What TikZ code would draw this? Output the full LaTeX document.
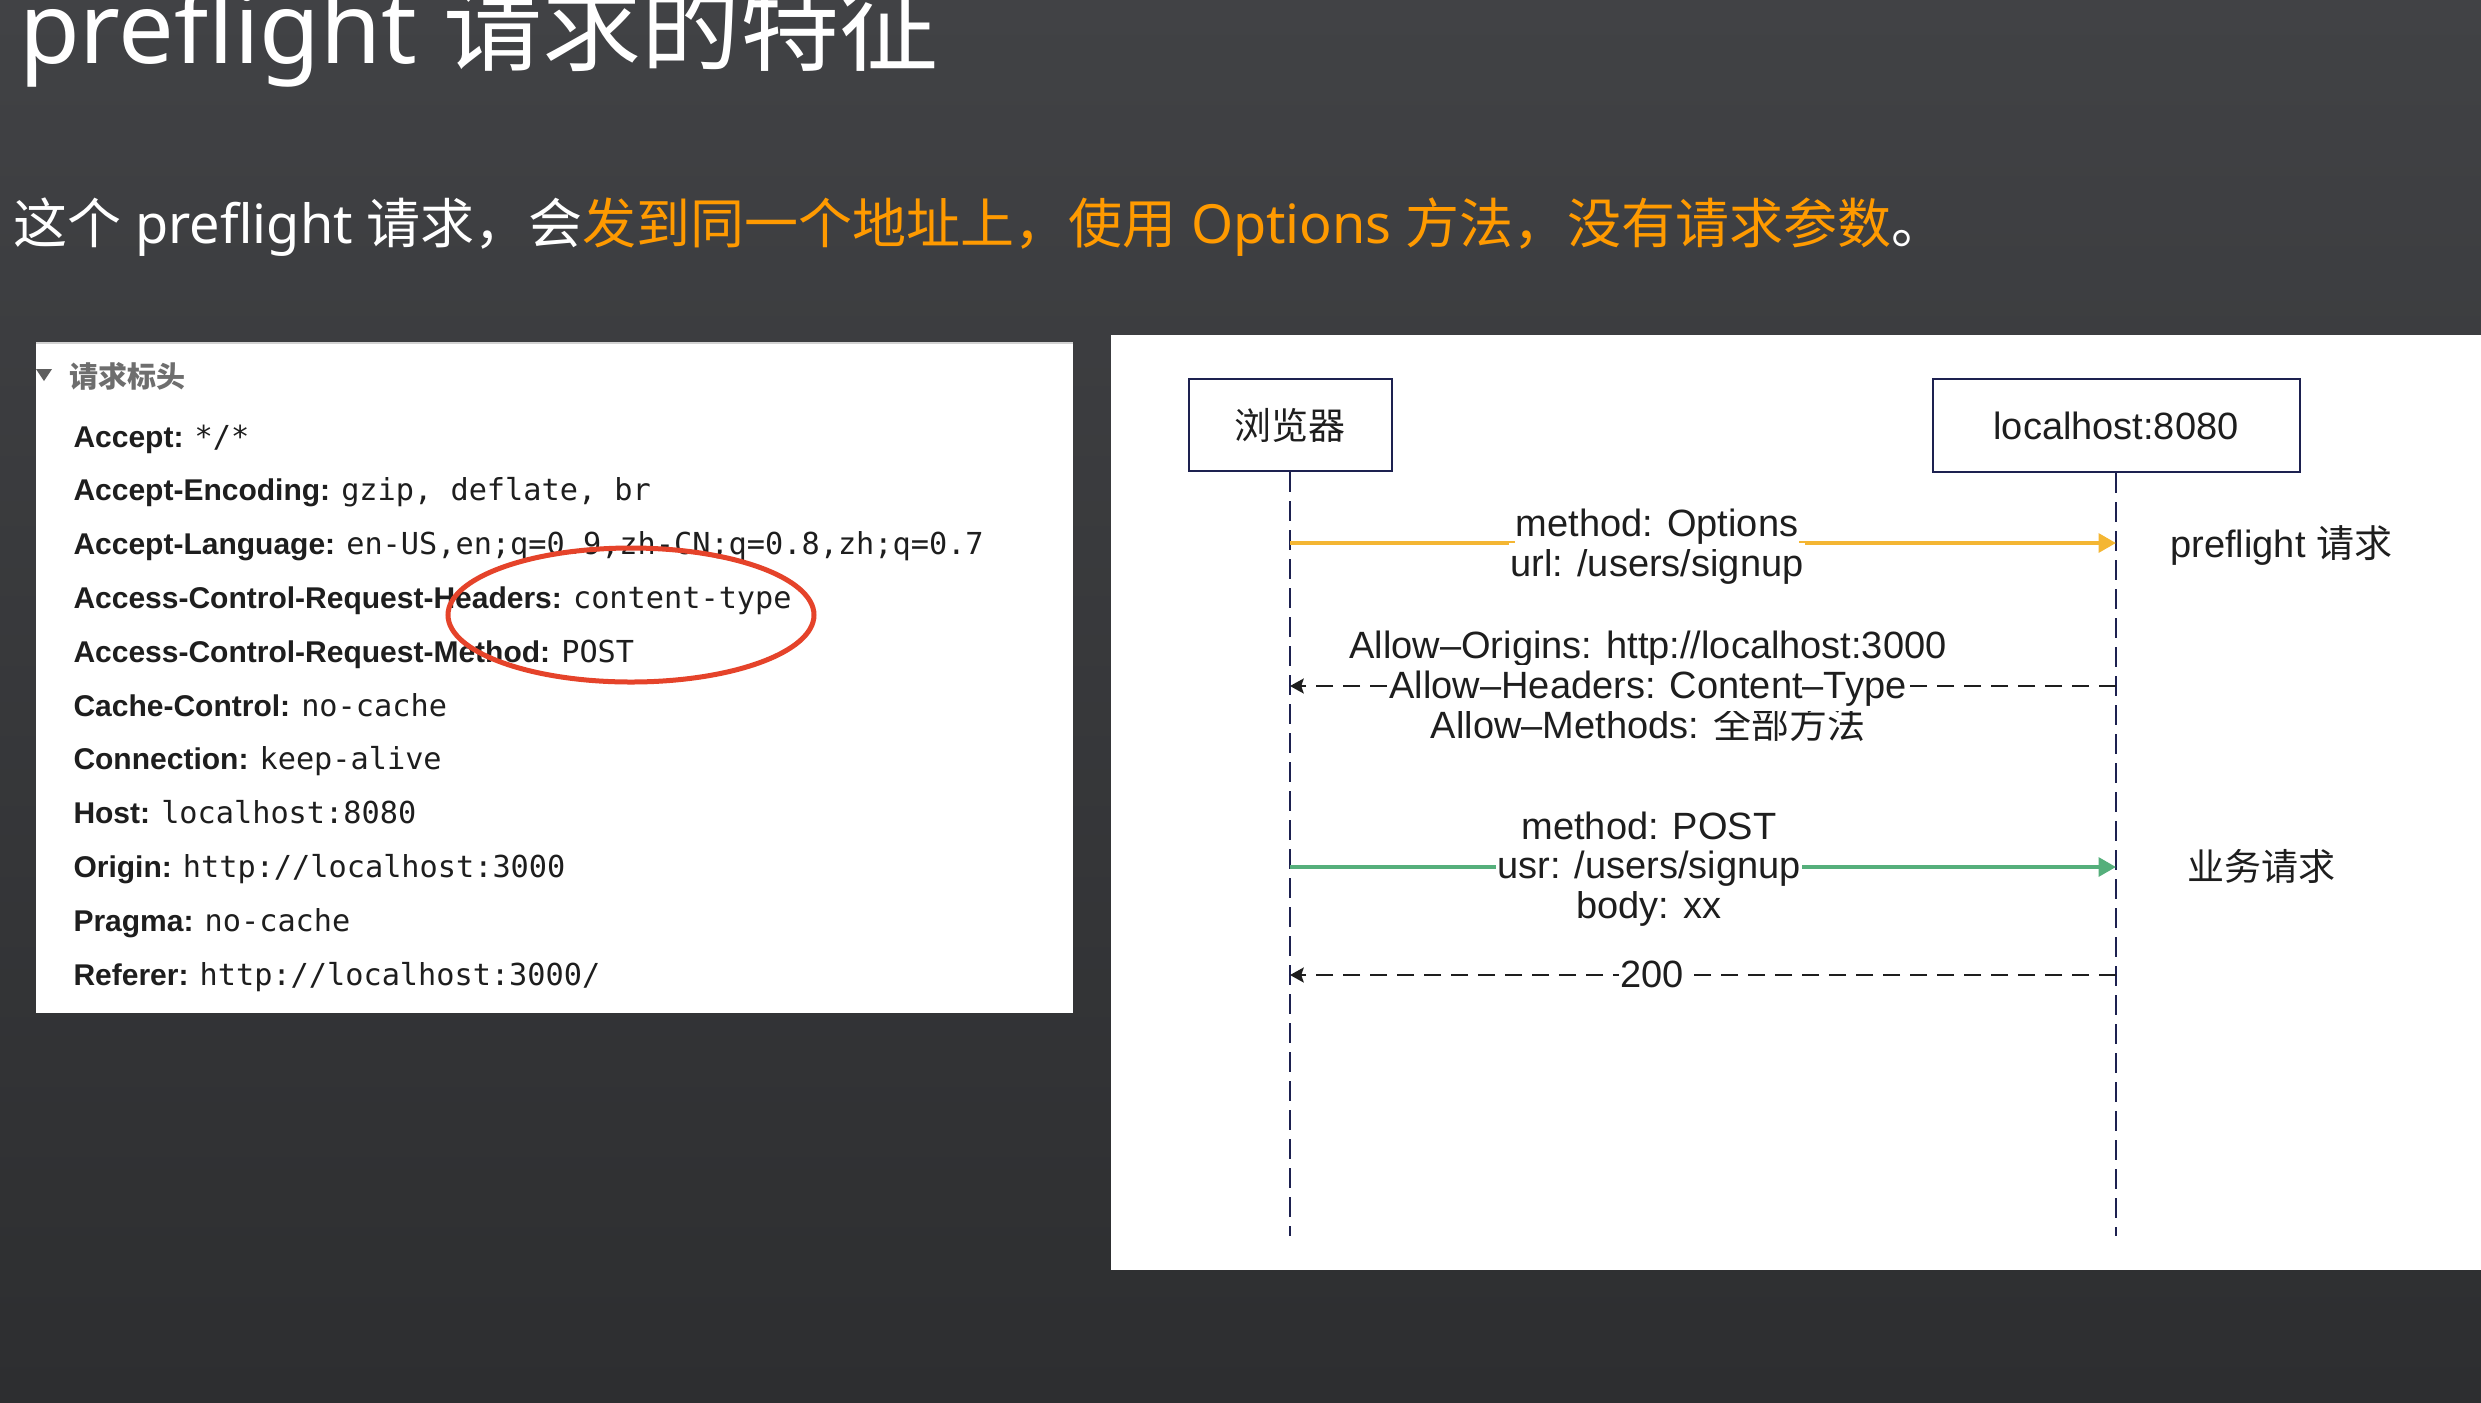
\documentclass[tikz,border=0pt]{standalone}
\usepackage{fontspec}
\setmainfont{Noto Sans}
\setmonofont{DejaVu Sans Mono}
\newfontfamily\zhfont{Noto Sans CJK SC}
\newfontfamily\hvfont{Liberation Sans}
\usetikzlibrary{arrows.meta}
\definecolor{bgtop}{HTML}{414245}
\definecolor{bgbot}{HTML}{2D2E30}
\definecolor{hilite}{HTML}{FF9A00}
\definecolor{inkdark}{HTML}{1E1E1E}
\definecolor{headgray}{HTML}{6E6E6E}
\definecolor{navy}{HTML}{1D2150}
\definecolor{prefltcol}{HTML}{F4B633}
\definecolor{bizgreen}{HTML}{55AF7B}
\definecolor{ringred}{HTML}{E5432A}

\begin{document}
\begin{tikzpicture}[x=0.4pt,y=-0.4pt,
  hdr/.style={anchor=base west,inner sep=0pt,text=inkdark,font=\hvfont\fontsize{12}{14}\selectfont},
  seqbox/.style={draw=navy,line width=0.8pt,fill=white,inner sep=0pt,font=\hvfont\fontsize{15.2}{18}\selectfont,text=inkdark},
  lifeline/.style={draw=navy,line width=0.7pt,dash pattern=on 8pt off 3.6pt},
  msg/.style={anchor=base,inner sep=0pt,font=\hvfont\fontsize{15.2}{18}\selectfont,text=inkdark},
  cut/.style={fill=white,inner xsep=0.5pt,inner ysep=2pt},
  reqarrow/.style={line width=1.6pt,-{Triangle[length=7pt,width=7.5pt]}},
  replyarrow/.style={draw=inkdark,line width=0.8pt,dash pattern=on 6.8pt off 4pt,-{Stealth[length=5.5pt,width=6pt,inset=1pt]}},
]
\useasboundingbox (0,0) rectangle (2481,1402);
\clip (0,0) rectangle (2481,1402);
\shade[top color=bgtop,bottom color=bgbot] (0,0) rectangle (2481,1402);

% heading and the one-line summary
\node[anchor=base west,inner sep=0pt,text=white,font=\fontsize{39.6}{46}\selectfont] (title) at (18.5,63) {preflight {\zhfont 请求的特征}};
\node[anchor=base west,inner sep=0pt,text=white,font=\fontsize{21.6}{26}\selectfont] (summary) at (13,243)
  {{\zhfont 这个} preflight {\zhfont 请求，会}\textcolor{hilite}{{\zhfont 发到同一个地址上，使用} Options {\zhfont 方法，没有请求参数}}{\zhfont 。}};

% request headers panel
\fill[white] (36,342) rectangle (1073,1013);
\draw[gray!35,line width=0.8pt] (36,342.5) -- (1073,342.5);
\fill[headgray!85!black] (36,369) -- (52,369) -- (44,381) -- cycle;
\node[anchor=west,inner sep=0pt,text=headgray,font=\zhfont\bfseries\fontsize{11.6}{14}\selectfont] (sect) at (69,376) {请求标头};

\node[hdr] (h1)  at (73,447)   {\textbf{Accept:} \texttt{\fontsize{12.1}{14}\selectfont */*}};
\node[hdr] (h2)  at (73,500.8) {\textbf{Accept-Encoding:} \texttt{\fontsize{12.1}{14}\selectfont gzip, deflate, br}};
\node[hdr] (h3)  at (73,554.6) {\textbf{Accept-Language:} \texttt{\fontsize{12.1}{14}\selectfont en-US,en;q=0.9,zh-CN;q=0.8,zh;q=0.7}};
\node[hdr] (h4)  at (73,608.4) {\textbf{Access-Control-Request-Headers:} \texttt{\fontsize{12.1}{14}\selectfont content-type}};
\node[hdr] (h5)  at (73,662.2) {\textbf{Access-Control-Request-Method:} \texttt{\fontsize{12.1}{14}\selectfont POST}};
\node[hdr] (h6)  at (73,716)   {\textbf{Cache-Control:} \texttt{\fontsize{12.1}{14}\selectfont no-cache}};
\node[hdr] (h7)  at (73,769.8) {\textbf{Connection:} \texttt{\fontsize{12.1}{14}\selectfont keep-alive}};
\node[hdr] (h8)  at (73,823.6) {\textbf{Host:} \texttt{\fontsize{12.1}{14}\selectfont localhost:8080}};
\node[hdr] (h9)  at (73,877.4) {\textbf{Origin:} \texttt{\fontsize{12.1}{14}\selectfont http://localhost:3000}};
\node[hdr] (h10) at (73,931.2) {\textbf{Pragma:} \texttt{\fontsize{12.1}{14}\selectfont no-cache}};
\node[hdr] (h11) at (73,985)   {\textbf{Referer:} \texttt{\fontsize{12.1}{14}\selectfont http://localhost:3000/}};

\draw[ringred,line width=2pt] (631,615) ellipse [x radius=183,y radius=67];

% sequence diagram panel
\fill[white] (1111,335) rectangle (2481,1270);

\node[seqbox,minimum width=81.2pt,minimum height=36.8pt] (brw) at (1290,425) {\zhfont\fontsize{14.8}{18}\selectfont 浏览器};
\node[seqbox,minimum width=146.8pt,minimum height=37.2pt] (srv) at (2116,425.5) {localhost:8080};

\coordinate (brwEnd) at (1290,1236);
\coordinate (srvEnd) at (2116,1236);
\draw[lifeline] (brw.south) -- (brwEnd);
\draw[lifeline] (srv.south) -- (srvEnd);

\coordinate (m1a) at (1290,543);
\coordinate (m1b) at (2116,543);
\coordinate (m2a) at (2116,686);
\coordinate (m2b) at (1290,686);
\coordinate (m3a) at (1290,867);
\coordinate (m3b) at (2116,867);
\coordinate (m4a) at (2116,975);
\coordinate (m4b) at (1290,975);

\draw[reqarrow,draw=prefltcol,fill=prefltcol] (m1a) -- (m1b);
\draw[replyarrow] (m2a) -- (m2b);
\draw[reqarrow,draw=bizgreen,fill=bizgreen] (m3a) -- (m3b);
\draw[replyarrow] (m4a) -- (m4b);

% message labels
\node[msg,cut] (l1b) at (1657,576) {url: /users/signup};
\node[msg,cut] (l1a) at (1657,536) {method: Options};

\node[msg] (l2a) at (1648,658) {Allow–Origins: http://localhost:3000};
\node[msg] (l2c) at (1648,738) {Allow–Methods: {\zhfont 全部方法}};
\node[msg,cut] (l2b) at (1648,698) {Allow–Headers: Content–Type};

\node[msg] (l3a) at (1649,839) {method: POST};
\node[msg] (l3c) at (1649,918) {body: xx};
\node[msg,cut] (l3b) at (1649,878) {usr: /users/signup};

\node[msg,cut] (l4) at (1652,987) {200};

\node[anchor=base west,inner sep=0pt,font=\hvfont\fontsize{15.2}{18}\selectfont,text=inkdark] (tagpf) at (2170,557) {preflight {\zhfont 请求}};
\node[anchor=west,inner sep=0pt,font=\zhfont\fontsize{14.8}{18}\selectfont,text=inkdark] (tagbiz) at (2187,866) {业务请求};
\end{tikzpicture}
\end{document}
